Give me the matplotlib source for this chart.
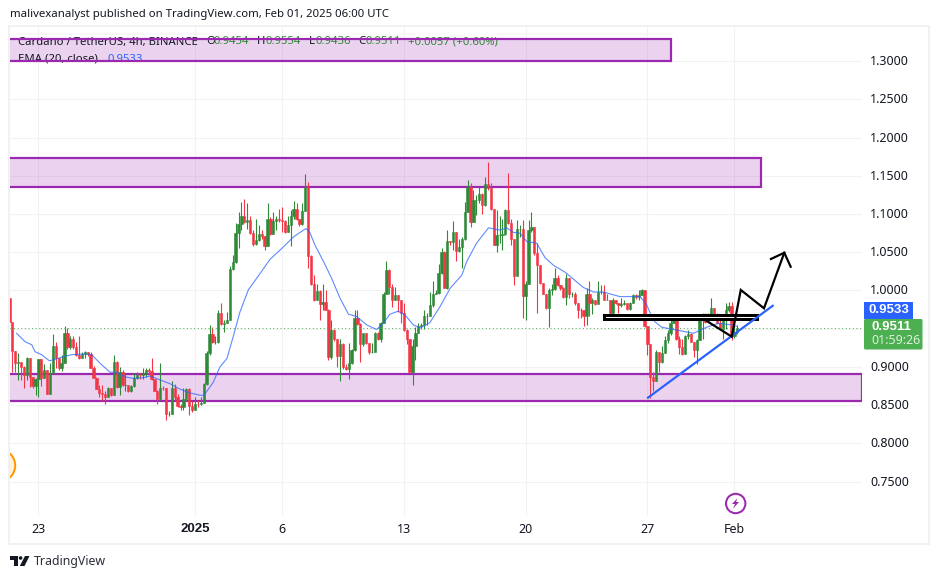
import matplotlib
matplotlib.use("Agg")
import matplotlib.pyplot as plt
from matplotlib.patches import Rectangle, Circle, Polygon, FancyBboxPatch
from matplotlib.transforms import ScaledTranslation

plt.rcParams['font.family'] = ['Noto Sans', 'DejaVu Sans']

first_open = 0.990
closes = [
 .959,.921,.905,.906,.900,.889,.912,.887,.875,.884,.910,.886,.896,.865,.892,.927,.912,.899,.905,.945,
 .926,.936,.926,.916,.912,.917,.919,.917,.899,.886,.871,.866,.865,.861,.872,.863,.906,.874,.894,.876,
 .877,.868,.875,.885,.890,.889,.892,.896,.895,.884,.869,.858,.873,.872,.839,.839,.872,.861,.849,.847,
 .858,.871,.849,.844,.852,.851,.853,.878,.918,.943,.933,.933,.971,
 .956,.958,.962,1.028,1.037,1.075,1.087,1.097,1.090,1.092,1.075,1.061,1.066,1.074,1.071,1.058,1.094,1.074,
 1.091,1.093,1.092,1.091,1.077,1.086,1.097,1.107,1.093,1.087,1.104,1.135,1.045,1.008,.988,.999,.982,.985,
 .975,.913,.948,.936,.914,.930,.900,.897,.905,.922,.964,.956,.930,.944,.931,.919,.920,.944,.937,.957,
 .996,1.027,1.005,.988,.994,.987,.970,.948,.937,.894,.927,.945,.953,.955,.966,.967,.981,.996,.997,1.023,
 1.051,1.003,1.065,1.063,1.076,1.052,1.057,1.067,1.103,1.136,1.090,1.118,1.118,1.126,1.112,1.139,1.134,1.106,
 1.060,1.073,1.073,1.074,1.105,1.088,1.068,1.019,1.081,1.081,.993,1.009,1.079,1.083,1.049,1.033,1.010,.996,
 .977,1.001,1.002,1.016,1.007,1.003,.991,1.016,.996,.996,.983,.975,.974,.967,.995,.983,.988,.982,.998,.998,
 .988,.988,.970,.988,.983,.981,.982,.984,.976,.984,.994,.991,.994,
 1.001,.953,.930,.887,.881,.919,.906,.918,.935,.944,.958,.962,.937,.926,.917,.940,.943,.933,.922,.935,
 .961,.968,.959,.967,.977,.969,.958,.950,.966,.975,.980,.940,.9454,.9511]
highs = [
 .996,.959,.921,.918,.906,.901,.913,.912,.887,.885,.911,.910,.904,.896,.905,.943,.932,.912,.916,.953,
 .951,.940,.940,.933,.940,.920,.921,.919,.919,.901,.887,.876,.876,.868,.874,.873,.916,.908,.900,.896,
 .892,.877,.876,.892,.894,.892,.898,.898,.898,.912,.884,.870,.905,.875,.872,.842,.881,.878,.865,.851,
 .872,.873,.872,.855,.861,.857,.861,.879,.921,.955,.952,.940,.974,
 .983,.961,.972,1.032,1.046,1.088,1.103,1.116,1.120,1.115,1.097,1.079,1.094,1.086,1.079,1.071,1.115,1.096,
 1.103,1.097,1.106,1.109,1.092,1.097,1.105,1.117,1.114,1.094,1.115,1.153,1.142,1.046,1.020,1.009,1.001,1.009,
 1.001,.976,.961,.950,.937,.937,.931,.904,.931,.923,.974,.974,.957,.945,.944,.931,.931,.946,.946,.959,
 .998,1.039,1.028,1.009,1.005,.994,.988,.983,.950,.937,.937,.952,.957,.958,.974,.970,.998,1.012,1.000,1.035,
 1.056,1.052,1.079,1.065,1.091,1.076,1.068,1.070,1.116,1.145,1.140,1.132,1.125,1.135,1.127,1.149,1.168,1.140,
 1.106,1.105,1.097,1.094,1.106,1.154,1.094,1.068,1.092,1.086,1.092,1.012,1.092,1.103,1.083,1.062,1.034,1.010,
 .996,1.003,1.009,1.029,1.020,1.007,1.005,1.022,1.016,.998,.998,.984,.977,.975,1.003,1.012,.990,.988,1.012,1.007,
 1.007,.995,.988,.990,.988,.983,.990,.988,.984,.985,.995,.995,1.001,
 1.002,1.001,.953,.930,.894,.922,.920,.927,.940,.948,.969,.969,.969,.940,.937,.942,.948,.944,.933,.937,
 .962,.971,.971,.970,.990,.977,.971,.961,.968,.983,.985,.985,.965,.9554]
lows = [
 .953,.894,.894,.883,.883,.872,.883,.874,.872,.863,.861,.875,.886,.864,.864,.892,.898,.896,.895,.905,
 .924,.924,.924,.914,.910,.912,.912,.914,.898,.885,.871,.861,.855,.851,.861,.862,.863,.873,.863,.875,
 .868,.867,.867,.874,.884,.884,.884,.887,.890,.883,.868,.851,.857,.870,.831,.836,.839,.857,.847,.844,
 .844,.857,.837,.841,.844,.848,.850,.853,.877,.916,.931,.930,.931,
 .955,.946,.957,.961,1.027,1.036,1.056,1.079,1.088,1.080,1.074,1.058,1.059,1.065,1.068,1.053,1.058,1.072,
 1.075,1.079,1.090,1.077,1.075,1.077,1.058,1.094,1.092,1.085,1.086,1.104,1.029,1.007,.986,.988,.962,.975,
 .974,.909,.911,.934,.900,.881,.897,.896,.884,.904,.921,.955,.906,.928,.930,.917,.918,.920,.935,.933,
 .957,.996,.995,.978,.988,.972,.957,.947,.930,.893,.876,.909,.944,.950,.950,.955,.966,.979,.995,.996,
 1.022,1.003,1.002,1.060,1.053,1.039,1.051,1.029,1.066,1.103,1.083,1.090,1.099,1.115,1.100,1.111,1.132,1.105,
 1.059,1.050,1.062,1.053,1.073,1.087,1.060,1.007,1.020,1.070,.964,.961,1.009,1.077,1.047,.971,1.009,.995,
 .976,.952,.994,1.001,1.006,1.001,.990,.981,.990,.991,.981,.964,.964,.953,.955,.967,.969,.981,.984,.996,
 .988,.988,.968,.966,.982,.970,.979,.981,.975,.975,.983,.989,.987,
 .994,.952,.916,.859,.868,.881,.894,.905,.918,.931,.942,.957,.935,.917,.916,.917,.937,.932,.913,.904,
 .935,.937,.958,.959,.964,.968,.957,.948,.937,.950,.972,.935,.938,.9436]
opens = [first_open] + closes[:-1]
assert len(closes) == len(highs) == len(lows) == 252, (len(closes), len(highs), len(lows))

ema_idx = [2.5,5.4,7.7,8.8,11.1,13.8,15.7,19.2,21.5,26.1,28.4,31.2,34.7,37,39.9,42.7,46.2,48.5,52,55.4,58.8,62.3,65.7,67.1,70.3,
           72.6,75,77.2,79.5,82.4,86.4,89.9,94.5,97.9,101.4,102.3,103.7,105.4,108.3,111.1,114,116.9,119.7,123.2,126.6,128.9,131.2,134.1,136.4,139.3,141.6,145,
           148.5,152,156,157.7,161.1,165.2,169.2,171.5,173.8,176.1,178.4,181.8,184.7,187.6,191.6,197.9,201.4,204.8,210.5,217.5,
           219.8,222,224.9,229,235.9,240.4,244.5,249.1,250.8]
ema_val = [.944,.933,.929,.920,.916,.908,.910,.914,.916,.917,.916,.905,.893,.893,.887,.885,.886,.888,.883,.878,.871,.866,.863,.863,.880,
           .900,.911,.940,.972,1.001,1.022,1.041,1.057,1.070,1.079,1.081,1.075,1.059,1.038,1.016,.990,.969,.966,.955,.949,.957,.969,.973,.968,.955,.951,.958,
           .979,1.003,1.020,1.038,1.062,1.082,1.079,1.082,1.076,1.075,1.064,1.062,1.043,1.033,1.024,1.004,.998,.998,.992,.992,
           .981,.961,.952,.949,.944,.952,.957,.955,.9533]

zone_tops = [1.3285, 1.173, .891]
zone_bottoms = [1.300, 1.135, .855]
zone_ends = [228.1, 259.2, 294.0]
trend_x, trend_y = [220.2, 263.2], [.8598, .980]
path_x = [239.9, 249.1, 252.2, 260.2, 267.2]
path_y = [.9614, .9396, 1.0007, .9767, 1.0494]
head_x = [262.6, 267.2, 269.4]
head_y = [1.0412, 1.0494, 1.0311]
box_x, box_y = (205.0, 257.7), (.9621, .9673)
last_price = .9511

price_ticks = [1.30,1.25,1.20,1.15,1.10,1.05,1.00,.95,.90,.85,.80,.75]
price_labels = ['1.3000','1.2500','1.2000','1.1500','1.1000','1.0500','1.0000','','0.9000','0.8500','0.8000','0.7500']
date_ticks = [10,64,94,136,178,220,250]
date_labels = ['23','2025','6','13','20','27','Feb']

GREEN, RED, PURPLE, BLUE, INK = '#2f8a38', '#f23645', '#9c27b0', '#2962ff', '#131722'
W, H = 939, 579
fig = plt.figure(figsize=(W/100, H/100), dpi=100, facecolor='white')
px = 0.72
L, R, T, B = 10, 862, 27, 516
ax = fig.add_axes([L/W, 1-B/H, (R-L)/W, (B-T)/H])
ax.set_xlim(0.2, 294.0)
ax.set_ylim(0.7050, 1.3447)
for s in ax.spines.values():
    s.set_visible(False)
ax.yaxis.tick_right()
ax.set_yticks(price_ticks, price_labels)
ax.set_xticks(date_ticks, date_labels)
ax.tick_params(axis='both', length=0, labelsize=9, labelcolor=INK)
ax.tick_params(axis='y', pad=6)
ax.tick_params(axis='x', pad=5)
for lbl in ax.get_yticklabels():
    lbl.set_transform(lbl.get_transform() + ScaledTranslation(0, 1/100, fig.dpi_scale_trans))
bold = ax.get_xticklabels()[1]
bold.set_family('Liberation Sans'); bold.set_fontweight('bold'); bold.set_fontsize(9.5)
ax.grid(True, color='#f1f2f4', lw=1.1*px, zorder=0)
ax.set_axisbelow(True)

over = fig.add_axes([0, 0, 1, 1], zorder=5)
over.set_xlim(0, W); over.set_ylim(H, 0); over.axis('off'); over.patch.set_alpha(0)

def leg(x, y, s, c):
    ax.text(x, y, s, color=c, fontsize=8.15, va='center', ha='left', transform=over.transData, zorder=2.1, clip_on=False)
leg(18, 42, 'Cardano / TetherUS, 4h, BINANCE', INK)
for x, s, c in [(206,'O',INK),(214,'0.9454',GREEN),(257,'H',INK),(265,'0.9554',GREEN),(309,'L',INK),
                (315,'0.9436',GREEN),(358,'C',INK),(365,'0.9511',GREEN),(408,'+0.0057 (+0.60%)',GREEN)]:
    leg(x, 42, s, c)
leg(18, 59, 'EMA (20, close)', INK)
leg(108, 59, '0.9533', BLUE)

for t, b, e in zip(zone_tops, zone_bottoms, zone_ends):
    ax.add_patch(Rectangle((0.2, b), e-0.2, t-b, facecolor=PURPLE, alpha=.2, lw=0, zorder=2))
    ax.plot([0.2, e, e, 0.2], [t, t, b, b], color=PURPLE, lw=2.2*px, zorder=2.2, solid_joinstyle='miter')

idx = list(range(len(closes)))
cols = [GREEN if c >= o else RED for o, c in zip(opens, closes)]
ax.vlines(idx, lows, highs, colors=cols, lw=1.1*px, zorder=3)
ax.bar(idx, [c-o for o, c in zip(opens, closes)], bottom=opens, width=.8, color=cols, edgecolor=cols, lw=.4, zorder=3.1)
ax.plot(ema_idx, ema_val, color=BLUE, lw=1.1*px, alpha=.75, zorder=3.3)
ax.axhline(last_price, color='#4caf50', lw=1.0*px, ls=(0, (1, 2.6)), zorder=3.2)

ax.add_patch(Rectangle((box_x[0], box_y[0]), box_x[1]-box_x[0], box_y[1]-box_y[0], facecolor='white', edgecolor='black', lw=3*px, zorder=4, joinstyle='miter'))
ax.plot(trend_x, trend_y, color=BLUE, lw=2.2*px, zorder=4.4)
ax.plot(path_x, path_y, color='black', lw=2.2*px, zorder=4.5, solid_joinstyle='miter')
ax.plot(head_x, head_y, color='black', lw=2.2*px, zorder=4.5, solid_joinstyle='miter')

over.add_patch(Rectangle((9, 26), 920, 518, fill=False, edgecolor='#f0f1f4', lw=2*px))
over.text(10, 14.5, 'malivexanalyst published on TradingView.com, Feb 01, 2025 06:00 UTC', fontsize=8.2, color=INK, va='center', ha='left')
c = Circle((-0.8, 465.5), 16, facecolor='#fff0dc', edgecolor='#ff9800', lw=2*px)
over.add_patch(c)
c.set_clip_path(Rectangle((10, 440), 40, 50, transform=over.transData))
over.add_patch(Circle((735.7, 503.5), 9.7, facecolor='white', edgecolor=PURPLE, lw=2*px))
over.add_patch(Polygon([(737.3,498.3),(732,504),(735,504),(733,508.7),(739,502),(736,502)], closed=True, facecolor=PURPLE, lw=0))
over.add_patch(Rectangle((864, 302), 49, 16.5, facecolor=BLUE, lw=0))
over.text(888.5, 310.2, '0.9533', color='white', fontsize=9.5, fontweight='bold', family='Liberation Sans', ha='center', va='center')
over.add_patch(FancyBboxPatch((864, 319), 58.5, 30.5, boxstyle='round,pad=0,rounding_size=1.5', facecolor='#4caf50', lw=0))
over.text(871, 327.2, '0.9511', color='white', fontsize=9.5, fontweight='bold', family='Liberation Sans', ha='left', va='center')
over.text(871, 341, '01:59:26', color='#dcefdd', fontsize=9, ha='left', va='center')
over.add_patch(Polygon([(10,556),(17.5,556),(17.5,566),(13.5,566),(13.5,559.5),(10,559.5)], closed=True, facecolor=INK, lw=0))
over.add_patch(Circle((20.6, 558), 1.8, facecolor=INK, lw=0))
over.add_patch(Polygon([(25,556),(29.5,556),(24.5,566),(19.8,566)], closed=True, facecolor=INK, lw=0))
over.text(34, 561.5, 'TradingView', fontsize=8.9, color='#2a2e39', va='center', ha='left')

fig.savefig('out.png', dpi=100)
